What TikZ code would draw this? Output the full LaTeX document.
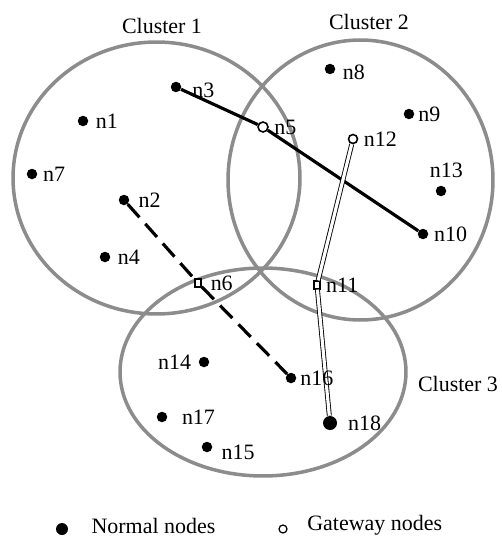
\documentclass[tikz,border=0pt]{standalone}
\usepackage{fontspec}
\setmainfont{Liberation Serif}
\usepackage{xcolor}
\usetikzlibrary{positioning}
\definecolor{ink}{HTML}{000000}
\definecolor{ring}{HTML}{8C8C8C}
\tikzset{
  lbl/.style={font=\fontsize{12.5}{15}\selectfont, text=ink, inner sep=1pt},
  normal/.style={circle, fill=ink, inner sep=0pt, minimum size=0.21cm},
  gate/.style={circle, draw=ink, fill=white, line width=0.9pt, inner sep=0pt, minimum size=0.2cm},
}

\begin{document}
\begin{tikzpicture}[x=0.02cm, y=-0.02cm,
  zone/.style={draw=ring, line width=2pt},
  link/.style={ink, line width=1.8pt},
  relay/.style={ink, line width=1.8pt, dash pattern=on 10pt off 5pt},
  pipe/.style={draw=ink, line width=0.5pt, double=white, double distance=1.8pt},
  gatesq/.style={gate, rectangle, minimum width=0.12cm, minimum height=0.16cm, line width=0.7pt}]
\useasboundingbox (0,0) rectangle (501,537);
% clusters
\draw[zone] (156.5,178) ellipse [x radius=2.87cm, y radius=2.72cm];
\draw[zone] (360.5,180) ellipse [x radius=2.65cm, y radius=2.8cm];
\draw[zone] (263,372) ellipse [x radius=2.86cm, y radius=2.08cm];
\node[lbl] (c1) at (162,26) {Cluster 1};
\node[lbl] (c2) at (369,22) {Cluster 2};
\node[lbl] (c3) at (458,384) {Cluster 3};
% sensor nodes
\node[normal] (n1) at (83,121) {};
\node[normal] (n2) at (124,200) {};
\node[normal] (n3) at (176,87) {};
\node[normal] (n4) at (105,257) {};
\node[gate] (n5) at (263,127) {};
\node[gatesq] (n6) at (198,283) {};
\node[normal] (n7) at (32,174) {};
\node[normal] (n8) at (330,69) {};
\node[normal] (n9) at (409,114) {};
\node[normal] (n10) at (423,234) {};
\node[gatesq] (n11) at (317,285) {};
\node[gate, minimum size=0.18cm] (n12) at (353,139) {};
\node[normal] (n13) at (441,191) {};
\node[normal] (n14) at (204,362) {};
\node[normal] (n15) at (207,447) {};
\node[normal] (n16) at (291,378) {};
\node[normal] (n17) at (162,417) {};
\node[normal, minimum size=0.28cm] (n18) at (330,423) {};
% paths
\draw[link] (n3) -- (n5);
\draw[link] (n5) -- (n10);
\draw[relay] (n2) -- (n6);
\draw[relay] (n6) -- (n16);
\draw[pipe] (n12) -- (n11);
\draw[pipe] (n11) -- (n18);
% labels
\node[lbl, right=3pt of n1] (t1) {n1};
\node[lbl, right=4pt of n2] (t2) {n2};
\node[lbl, right=5pt of n3, yshift=-2pt] (t3) {n3};
\node[lbl, right=3pt of n4] (t4) {n4};
\node[lbl, right=2pt of n5] (t5) {n5};
\node[lbl, right=4pt of n6] (t6) {n6};
\node[lbl, right=2pt of n7] (t7) {n7};
\node[lbl, right=3pt of n8, yshift=-2pt] (t8) {n8};
\node[lbl, right=1pt of n9] (t9) {n9};
\node[lbl, right=2pt of n10] (t10) {n10};
\node[lbl, right=2pt of n11] (t11) {n11};
\node[lbl, right=2pt of n12] (t12) {n12};
\node[lbl, above=3pt of n13, xshift=3pt] (t13) {n13};
\node[lbl, left=3pt of n14] (t14) {n14};
\node[lbl, right=4pt of n15, yshift=-3pt] (t15) {n15};
\node[lbl, right=1pt of n16] (t16) {n16};
\node[lbl, right=7pt of n17] (t17) {n17};
\node[lbl, right=5pt of n18] (t18) {n18};
% legend
\node[normal, minimum size=0.24cm] (kn) at (62,529) {};
\node[lbl, right=12pt of kn, yshift=2pt] (tn) {Normal nodes};
\node[gate, minimum size=0.16cm, line width=0.7pt] (kg) at (283,529) {};
\node[lbl, right=10pt of kg, yshift=2pt] (tg) {Gateway nodes};
\end{tikzpicture}
\end{document}
